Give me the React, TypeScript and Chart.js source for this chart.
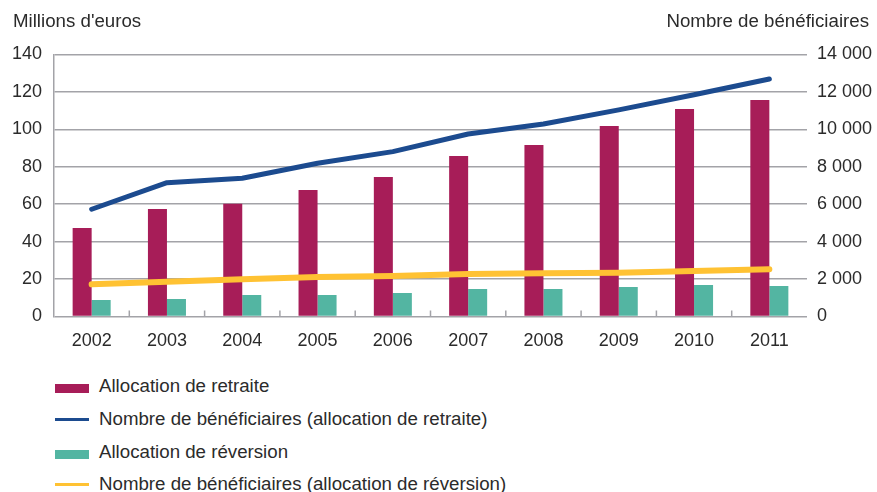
import React, { useEffect, useRef } from "react";
import { Chart, registerables } from "chart.js";

Chart.register(...registerables);

const years = ["2002", "2003", "2004", "2005", "2006", "2007", "2008", "2009", "2010", "2011"];
const allocationRetraite = [47.3, 57.5, 60.3, 67.6, 74.6, 85.8, 91.7, 101.8, 110.9, 115.7];
const allocationReversion = [8.8, 9.4, 11.5, 11.5, 12.6, 14.7, 14.7, 15.8, 16.8, 16.3];
const beneficiairesRetraite = [5730, 7150, 7390, 8190, 8810, 9750, 10290, 11040, 11850, 12690];
const beneficiairesReversion = [1720, 1860, 1990, 2110, 2160, 2270, 2310, 2340, 2430, 2520];

const leftTitle = "Millions d'euros";
const rightTitle = "Nombre de bénéficiaires";
const labelRetraite = "Allocation de retraite";
const labelBenefRetraite = "Nombre de bénéficiaires (allocation de retraite)";
const labelReversion = "Allocation de réversion";
const labelBenefReversion = "Nombre de bénéficiaires (allocation de réversion)";

const CRIMSON = "#A71D58";
const TEAL = "#53B5A2";
const BLUE = "#1C4B8F";
const YELLOW = "#FFC233";
const GRID = "#a3a3a8";
const TEXT = "#2b2b2b";
const FONT = "'Liberation Sans', Arial, Helvetica, sans-serif";

const fmtSpace = (v: number) => String(v).replace(/\B(?=(\d{3})+(?!\d))/g, " ");

const innerTicks = {
  id: "innerTicks",
  afterDatasetsDraw(chart: any) {
    const x = chart.scales.x;
    const area = chart.chartArea;
    const ctx = chart.ctx;
    ctx.save();
    ctx.strokeStyle = GRID;
    ctx.lineWidth = 1.5;
    for (let i = 1; i < years.length; i++) {
      const px = (x.getPixelForTick(i - 1) + x.getPixelForTick(i)) / 2;
      ctx.beginPath();
      ctx.moveTo(px, area.bottom);
      ctx.lineTo(px, area.bottom - 6);
      ctx.stroke();
    }
    ctx.restore();
  },
};

export default function App() {
  const ref = useRef<HTMLCanvasElement | null>(null);

  useEffect(() => {
    if (!ref.current) return;
    const chart = new Chart(ref.current, {
      type: "bar",
      data: {
        labels: years,
        datasets: [
          {
            type: "line",
            label: labelBenefRetraite,
            data: beneficiairesRetraite,
            yAxisID: "y2",
            borderColor: BLUE,
            backgroundColor: BLUE,
            borderWidth: 5,
            pointRadius: 0,
            tension: 0,
            borderCapStyle: "round",
            borderJoinStyle: "round",
            order: 0,
          } as any,
          {
            type: "line",
            label: labelBenefReversion,
            data: beneficiairesReversion,
            yAxisID: "y2",
            borderColor: YELLOW,
            backgroundColor: YELLOW,
            borderWidth: 6,
            pointRadius: 0,
            tension: 0,
            borderCapStyle: "round",
            borderJoinStyle: "round",
            order: 0,
          } as any,
          {
            type: "bar",
            label: labelRetraite,
            data: allocationRetraite,
            yAxisID: "y",
            backgroundColor: CRIMSON,
            categoryPercentage: 0.505,
            barPercentage: 1,
            order: 1,
          },
          {
            type: "bar",
            label: labelReversion,
            data: allocationReversion,
            yAxisID: "y",
            backgroundColor: TEAL,
            categoryPercentage: 0.505,
            barPercentage: 1,
            order: 1,
          },
        ],
      },
      options: {
        animation: false,
        responsive: true,
        maintainAspectRatio: false,
        layout: { padding: { top: 54.5, left: 0, right: 0, bottom: 0 } },
        plugins: {
          legend: { display: false },
          tooltip: { enabled: false },
          title: { display: false },
        },
        scales: {
          x: {
            offset: true,
            grid: { display: false },
            border: { display: false },
            ticks: {
              color: TEXT,
              font: { family: FONT, size: 18 },
              padding: 6,
              maxRotation: 0,
            },
            afterFit: (s: any) => {
              s.height = 43.5;
            },
          },
          y: {
            position: "left",
            min: 0,
            max: 140,
            ticks: {
              stepSize: 20,
              color: TEXT,
              font: { family: FONT, size: 18 },
              padding: 12,
            },
            grid: { color: GRID, lineWidth: 1.5, drawTicks: false },
            border: { display: true, color: GRID, width: 1.5 },
            afterFit: (s: any) => {
              s.width = 54;
            },
          },
          y2: {
            position: "right",
            min: 0,
            max: 14000,
            ticks: {
              stepSize: 2000,
              color: TEXT,
              font: { family: FONT, size: 18 },
              padding: 10,
              callback: (v: any) => fmtSpace(Number(v)),
            },
            grid: { display: false, drawTicks: false },
            border: { display: false },
            afterFit: (s: any) => {
              s.width = 70;
            },
          },
        },
      },
      plugins: [innerTicks],
    });
    return () => chart.destroy();
  }, []);

  const textStyle: React.CSSProperties = {
    position: "absolute",
    fontFamily: FONT,
    fontSize: 18.7,
    lineHeight: "20px",
    color: TEXT,
    whiteSpace: "nowrap",
  };

  const legendRows = [
    { label: labelRetraite, color: CRIMSON, kind: "bar", y: 386 },
    { label: labelBenefRetraite, color: BLUE, kind: "line", y: 419 },
    { label: labelReversion, color: TEAL, kind: "bar", y: 452 },
    { label: labelBenefReversion, color: YELLOW, kind: "line", y: 484 },
  ];

  return (
    <div
      style={{
        position: "fixed",
        left: 0,
        top: 0,
        width: 877,
        height: 492,
        background: "#ffffff",
        overflow: "hidden",
      }}
    >
      <div style={{ position: "absolute", left: 0, top: 0, width: 877, height: 360 }}>
        <canvas ref={ref} />
      </div>
      <div style={{ ...textStyle, left: 13, top: 11 }}>{leftTitle}</div>
      <div style={{ ...textStyle, right: 8, top: 11 }}>{rightTitle}</div>
      {legendRows.map((r) => (
        <React.Fragment key={r.label}>
          <div
            style={{
              position: "absolute",
              left: 55,
              width: 34,
              top: r.kind === "bar" ? r.y - 2 : r.y - 1.5,
              height: r.kind === "bar" ? 9 : 3,
              background: r.color,
            }}
          />
          <div style={{ ...textStyle, left: 99, top: r.y - 10 }}>{r.label}</div>
        </React.Fragment>
      ))}
    </div>
  );
}
